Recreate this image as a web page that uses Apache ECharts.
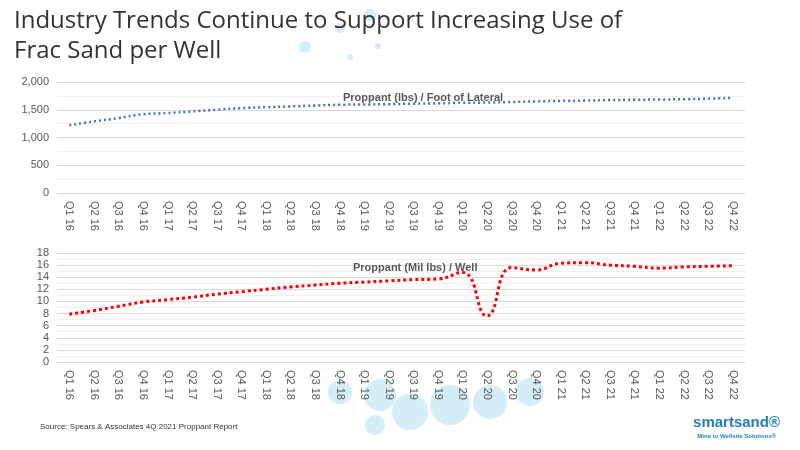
<!DOCTYPE html><html><head><meta charset="utf-8"><script src="https://cdn.jsdelivr.net/npm/echarts@6/dist/echarts.min.js"></script>
<style>body{margin:0;background:#fff}#c{width:800px;height:450px}</style></head><body><div id="c"></div><script>
const categories=['Q1 16','Q2 16','Q3 16','Q4 16','Q1 17','Q2 17','Q3 17','Q4 17','Q1 18','Q2 18','Q3 18','Q4 18','Q1 19','Q2 19','Q3 19','Q4 19','Q1 20','Q2 20','Q3 20','Q4 20','Q1 21','Q2 21','Q3 21','Q4 21','Q1 22','Q2 22','Q3 22','Q4 22'];
const lateral=[1220,1290,1350,1420,1440,1470,1500,1530,1545,1560,1575,1590,1595,1600,1610,1615,1625,1630,1640,1650,1660,1665,1675,1680,1685,1690,1700,1715];
const perWell=[7.9,8.5,9.2,9.9,10.3,10.7,11.2,11.6,12.0,12.4,12.7,13.0,13.2,13.4,13.6,13.7,14.8,7.6,15.6,15.2,16.3,16.4,16.0,15.8,15.5,15.7,15.8,15.9];
const c=echarts.init(document.getElementById('c'));
const lab={color:'#595959',fontFamily:'Liberation Sans',fontSize:11};
const xa=(i)=>({type:'category',gridIndex:i,data:categories,boundaryGap:true,axisLine:{show:false},axisTick:{show:false},axisLabel:Object.assign({rotate:-90,interval:0,margin:8},lab)});
const bub=[[305,47,6],[340,28,5],[378,46,3],[350,57,3],[370,15,6],[340,392,12],[380,395,16],[410,412,18],[450,405,20],[490,402,17],[530,392,14],[375,425,10]];
c.setOption({
graphic:[...bub.map(b=>({type:'circle',shape:{cx:b[0],cy:b[1],r:b[2]},style:{fill:'#d3edf9'},z:-1})),
{type:'text',left:14,top:6,style:{text:'Industry Trends Continue to Support Increasing Use of\nFrac Sand per Well',font:'24px "Open Sans"',fill:'#333',lineHeight:30}},
{type:'text',left:40,top:423,style:{text:'Source: Spears & Associates 4Q 2021 Proppant Report',font:'8px "Liberation Sans"',fill:'#333'}},
{type:'text',right:20,top:415,style:{text:'smartsand®',font:'bold 15px "Liberation Sans"',fill:'#1b7fc1'}},
{type:'text',right:24,top:433,style:{text:'Mine to Wellsite Solutions®',font:'bold 6px "Liberation Sans"',fill:'#1b7fc1'}}],
title:[{text:'Proppant (lbs) / Foot of Lateral',left:338,top:87,textStyle:{fontSize:11,fontWeight:'bold',color:'#595959',fontFamily:'Liberation Sans'}},
{text:'Proppant (Mil lbs) / Well',left:348,top:257,textStyle:{fontSize:11,fontWeight:'bold',color:'#595959',fontFamily:'Liberation Sans'}}],
grid:[{left:57,right:55,top:82,bottom:257},{left:57,right:55,top:253,bottom:88}],
xAxis:[xa(0),xa(1)],
yAxis:[{type:'value',gridIndex:0,min:0,max:2000,interval:500,axisLabel:Object.assign({formatter:v=>v.toLocaleString('en-US')},lab),splitLine:{lineStyle:{color:'#d9d9d9'}},minorTick:{show:false,splitNumber:2},minorSplitLine:{show:true,lineStyle:{color:'#f0f0f0'}}},
{type:'value',gridIndex:1,min:0,max:18,interval:2,axisLabel:lab,splitLine:{lineStyle:{color:'#d9d9d9'}},minorTick:{show:false,splitNumber:2},minorSplitLine:{show:true,lineStyle:{color:'#f0f0f0'}}}],
series:[{type:'line',xAxisIndex:0,yAxisIndex:0,data:lateral,smooth:true,symbol:'none',lineStyle:{color:'#4472c4',width:2.5,type:[2,3]}},
{type:'line',xAxisIndex:1,yAxisIndex:1,data:perWell,smooth:true,symbol:'none',lineStyle:{color:'#ff0000',width:3,type:[3,3]}}]
});
</script></body></html>
